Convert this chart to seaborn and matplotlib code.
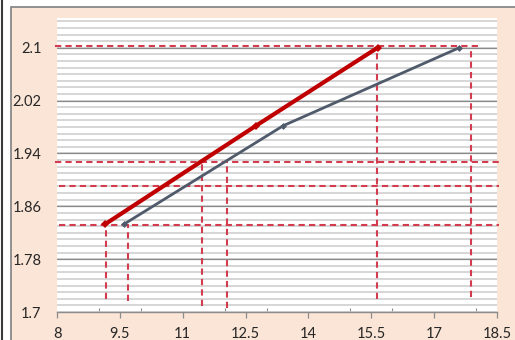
import matplotlib

matplotlib.use("Agg")
import matplotlib.pyplot as plt
import numpy as np
import pandas as pd
import seaborn as sns
from matplotlib.lines import Line2D
from matplotlib.patches import Rectangle
from matplotlib.ticker import FixedLocator

# Series
red_x = [9.15, 12.75, 15.65]
red_y = [1.833, 1.982, 2.1]
gray_x = [9.6, 13.4, 17.6]
gray_y = [1.833, 1.982, 2.1]

# Dashed guide lines
h_guide_y = [2.102, 1.927, 1.89, 1.832]
h_guide_x0 = [7.95, 7.95, 8.05, 8.05]
h_guide_x1 = [18.12, 18.55, 18.55, 18.55]
v_guide_x = [9.17, 9.69, 11.47, 12.06, 15.64, 17.88]
v_guide_top = [1.833, 1.833, 1.93, 1.93, 2.1, 2.1]
v_guide_bottom = [1.72, 1.716, 1.709, 1.706, 1.72, 1.723]

# Axis ticks
x_ticks = [8, 9.5, 11, 12.5, 14, 15.5, 17, 18.5]
x_tick_labels = ["8", "9.5", "11", "12.5", "14", "15.5", "17", "18.5"]
x_minor_ticks = [9, 10, 11, 12, 13, 14, 15, 16, 17, 18]
y_ticks = [1.7, 1.78, 1.86, 1.94, 2.02, 2.1]
y_tick_labels = ["1.7", "1.78", "1.86", "1.94", "2.02", "2.1"]

PEACH = "#fbe5d6"
DASH_RED = "#d23c4e"

sns.set_theme(style="white")
plt.rcParams["font.family"] = ["Lato", "DejaVu Sans"]

fig = plt.figure(figsize=(5.15, 3.4), dpi=100, facecolor="white")
ax = fig.add_axes([57 / 515, 1 - 312 / 340, 440 / 515, 294 / 340])
ax.set_facecolor("white")

# Peach chart frame and outer edge
fig.add_artist(
    Rectangle(
        (10.5 / 515, -0.05), 1.0, 0.05 + 333 / 340,
        transform=fig.transFigure, facecolor=PEACH, edgecolor="#7f7f7f",
        lw=1.2, zorder=-10,
    )
)
fig.add_artist(
    Line2D([1.5 / 515, 1.5 / 515], [0, 1], transform=fig.transFigure,
           color="#3a3a3a", lw=1.5, zorder=-9)
)

# Horizontal gridlines
minor_y = np.round(np.arange(1.7, 2.1451, 0.01), 3)
for yv in minor_y:
    ax.axhline(yv, color="#d0d0d0", lw=1.2, zorder=1)
for yv in y_ticks[1:]:
    ax.axhline(yv, color="#8a8a8a", lw=0.9, zorder=1.5)

# Guide lines
for y, x0, x1 in zip(h_guide_y, h_guide_x0, h_guide_x1):
    ax.plot([x0, x1], [y, y], color=DASH_RED, lw=1.5,
            linestyle=(0, (3.0, 2.0)), clip_on=False, zorder=3)
for x, top, bot in zip(v_guide_x, v_guide_top, v_guide_bottom):
    ax.plot([x, x], [bot, top], color=DASH_RED, lw=1.5,
            linestyle=(0, (3.0, 2.0)), zorder=3)

# Series
df_red = pd.DataFrame({"x": red_x, "y": red_y})
df_gray = pd.DataFrame({"x": gray_x, "y": gray_y})
sns.lineplot(data=df_gray, x="x", y="y", ax=ax, color="#4f5a6b", lw=2.0,
             marker="D", markersize=3.5, markeredgewidth=0, zorder=4)
sns.lineplot(data=df_red, x="x", y="y", ax=ax, color="#c00000", lw=3.0,
             marker="D", markersize=4, markeredgewidth=0, zorder=5)

ax.set_xlim(8, 18.5)
ax.set_ylim(1.7, 2.145)
ax.set_xlabel("")
ax.set_ylabel("")

ax.xaxis.set_major_locator(FixedLocator(x_ticks))
ax.set_xticklabels(x_tick_labels)
ax.xaxis.set_minor_locator(FixedLocator(x_minor_ticks))
ax.yaxis.set_major_locator(FixedLocator(y_ticks))
ax.set_yticklabels(y_tick_labels)

for side in ["top", "left", "right"]:
    ax.spines[side].set_visible(False)
ax.spines["bottom"].set_color("#8c8c8c")
ax.spines["bottom"].set_linewidth(1.0)

ax.tick_params(axis="x", which="major", direction="out", length=4, width=0.9,
               color="#8c8c8c", pad=7, labelsize=10.5, labelcolor="#262626",
               bottom=True)
ax.tick_params(axis="x", which="minor", direction="in", length=3, width=0.8,
               color="#8c8c8c", bottom=True)
ax.tick_params(axis="y", which="both", length=0, pad=11, labelsize=10.5,
               labelcolor="#262626")

fig.savefig("out.png", dpi=100, facecolor="white")
